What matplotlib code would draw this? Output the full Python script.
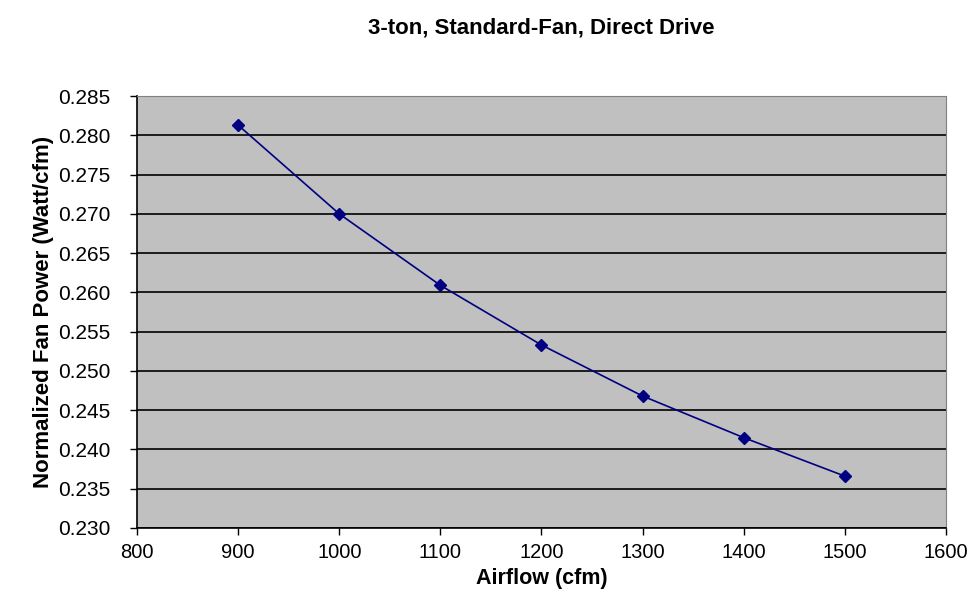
import matplotlib.pyplot as plt

plt.rcParams['font.family'] = ['Liberation Sans', 'DejaVu Sans']

airflow = [900, 1000, 1100, 1200, 1300, 1400, 1500]
fan_power = [0.2813, 0.2700, 0.2609, 0.2533, 0.2468, 0.2415, 0.2366]

fig = plt.figure(figsize=(9.8, 6.12), dpi=100)
ax = fig.add_axes([0.1398, 0.1373, 0.8255, 0.7057])
ax.set_facecolor('#C0C0C0')

ax.plot(airflow, fan_power, color='#000080', lw=1.2, marker='D', markersize=6,
        markerfacecolor='#000080', markeredgecolor='#000080', zorder=3)

ax.set_xlim(800, 1600)
ax.set_ylim(0.230, 0.285)
ax.set_xticks(range(800, 1601, 100))
ax.set_yticks([0.230 + 0.005 * i for i in range(12)])
ax.yaxis.set_major_formatter(plt.FormatStrFormatter('%.3f'))
ax.grid(axis='y', color='black', lw=1.2)
ax.set_axisbelow(True)

for s in ['top', 'right']:
    ax.spines[s].set_color('#808080')
for s in ['left', 'bottom']:
    ax.spines[s].set_color('black')
    ax.spines[s].set_linewidth(1.2)

ax.tick_params(direction='out', length=5, width=1, colors='black')
ax.tick_params(axis='x', labelsize=14.5, pad=6)
ax.tick_params(axis='y', labelsize=15, pad=14)

ax.set_xlabel('Airflow (cfm)', fontsize=15.5, fontweight='bold', labelpad=4)
ax.set_ylabel('Normalized Fan Power (Watt/cfm)', fontsize=16, fontweight='bold', labelpad=3)
fig.text(0.5526, 0.955, '3-ton, Standard-Fan, Direct Drive', fontsize=16,
         fontweight='bold', ha='center', va='center')

fig.savefig('out.png', dpi=100)
